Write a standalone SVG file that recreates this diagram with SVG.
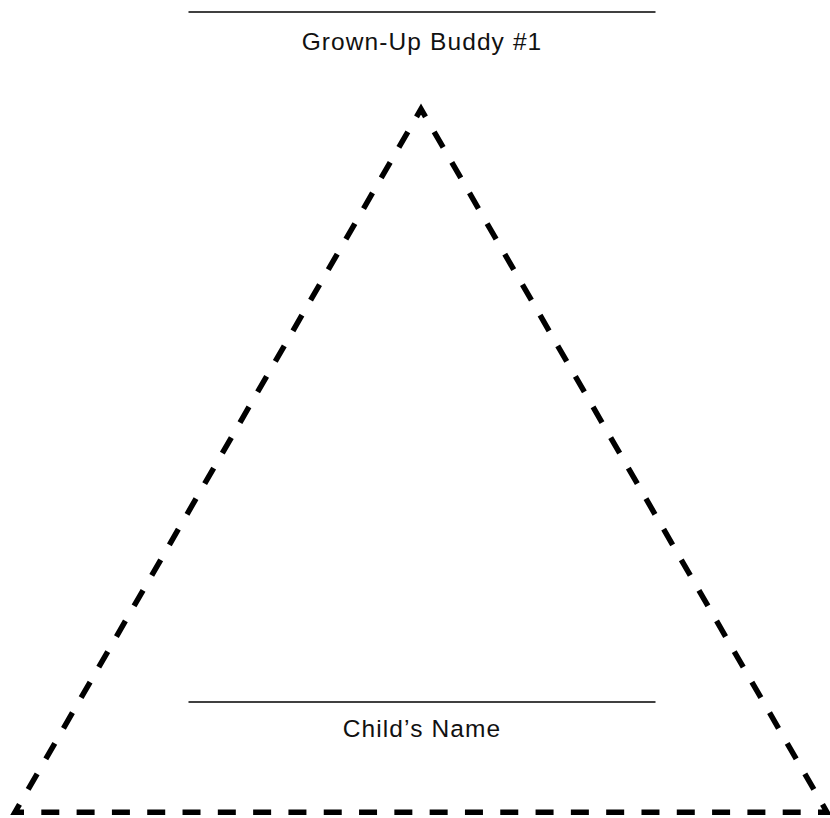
<svg xmlns="http://www.w3.org/2000/svg" width="830" height="818" viewBox="0 0 830 818">
  <style>
    .rule { stroke: #000; stroke-width: 1.6; fill: none; }
    .label { font-family: "Liberation Sans", Arial, sans-serif; font-size: 24.5px; letter-spacing: 1.1px; fill: #111; text-anchor: middle; }
    .tri { fill: none; stroke: #000; stroke-width: 5.5; stroke-linejoin: miter; stroke-miterlimit: 10; stroke-dasharray: 18 17.3043; stroke-dashoffset: 26.65; }
  </style>
  <rect width="830" height="818" fill="#fff"/>
  <g id="connectors">
    <path class="tri" d="M412.174,124.287 L15,812.213 L827,812.213 L421,109 Z"/>
  </g>
  <g id="buddy1">
    <line class="rule" x1="188.5" y1="12" x2="655.5" y2="12"/>
    <text class="label" x="422" y="49.5">Grown-Up Buddy #1</text>
  </g>
  <g id="child">
    <line class="rule" x1="188.5" y1="702" x2="655.5" y2="702"/>
    <text class="label" x="422" y="737">Child’s Name</text>
  </g>
</svg>
